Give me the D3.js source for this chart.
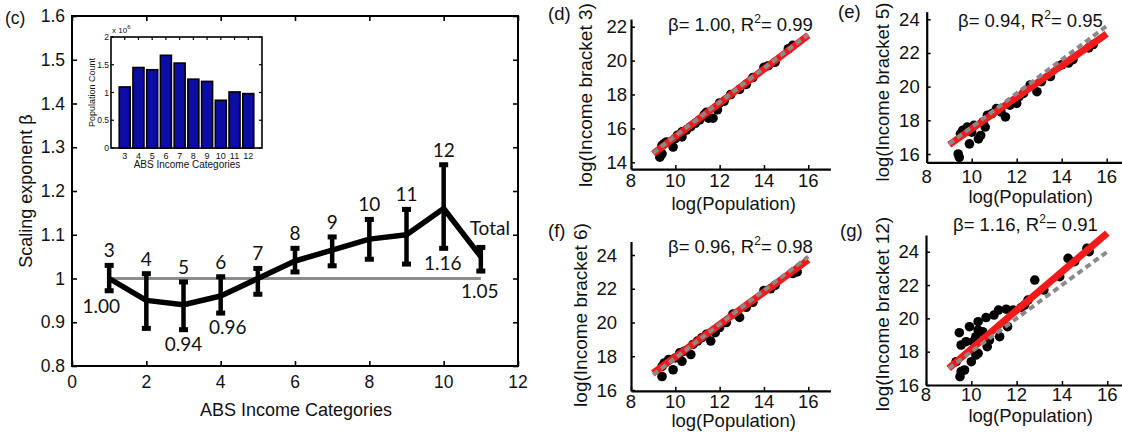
<!DOCTYPE html>
<html>
<head>
<meta charset="utf-8">
<script src="https://cdn.jsdelivr.net/npm/d3@7"></script>
<style>
  body { margin: 0; background: #fff; }
  svg { display: block; }
  text { fill: #111; }
</style>
</head>
<body>
<svg id="fig" width="1122" height="438"></svg>
<script>
// ---- Panel (c): scaling exponent per ABS income category ----
const catIndex   = [1, 2, 3, 4, 5, 6, 7, 8, 9, 10, 11];
const catLabels  = ["3", "4", "5", "6", "7", "8", "9", "10", "11", "12", "Total"];
const betaValues = [1.00, 0.95, 0.94, 0.96, 1.00, 1.04, 1.065, 1.09, 1.10, 1.16, 1.05];
const betaLow    = [0.972, 0.886, 0.883, 0.921, 0.964, 1.015, 1.029, 1.044, 1.033, 1.069, 1.017];
const betaHigh   = [1.030, 1.011, 0.992, 1.004, 1.023, 1.069, 1.095, 1.135, 1.158, 1.260, 1.071];
const labelledIdx = [0, 2, 3, 9, 10];           // points whose exponent is printed
const mainXTicks = [0, 2, 4, 6, 8, 10, 12];
const mainYTicks = [0.8, 0.9, 1.0, 1.1, 1.2, 1.3, 1.4, 1.5, 1.6];

// ---- Inset: population count per category (x 10^6) ----
const insetCategories = [3, 4, 5, 6, 7, 8, 9, 10, 11, 12];
const insetCounts     = [1.10, 1.45, 1.41, 1.67, 1.53, 1.24, 1.20, 0.86, 1.01, 0.98];
const insetYTicks     = [0, 0.5, 1, 1.5, 2];

// ---- Panels (d)-(g): log income vs log population ----
const scatterD = [[9.3,14.3],[9.4,14.5],[9.4,15.0],[9.5,15.1],[9.6,15.2],[9.9,14.9],[10.0,15.4],[10.1,15.6],
  [10.3,15.5],[10.3,15.8],[10.5,15.9],[10.7,16.1],[10.9,16.3],[11.1,16.5],[11.3,16.8],[11.4,16.95],[11.5,16.6],
  [11.7,16.6],[11.9,17.1],[12.0,17.5],[12.2,17.6],[12.5,18.0],[12.9,18.3],[13.2,18.6],[13.5,19.0],[14.0,19.6],
  [14.2,19.7],[14.5,19.9],[15.1,20.7],[15.3,20.9]];
const scatterE = [[9.4,16.0],[9.45,15.8],[9.5,17.2],[9.6,17.4],[9.8,17.6],[9.9,16.6],[10.0,17.3],[10.1,17.7],
  [10.3,16.9],[10.4,17.1],[10.5,17.9],[10.6,17.6],[10.7,18.3],[10.9,18.4],[11.1,18.7],[11.3,18.5],[11.5,18.2],
  [11.7,18.9],[12.0,19.0],[12.1,19.4],[12.3,19.6],[12.6,20.1],[12.9,19.7],[13.1,20.3],[13.5,20.6],[14.0,21.3],
  [14.3,21.4],[14.5,21.6],[15.2,22.3],[15.4,22.5]];
const scatterF = [[9.4,16.8],[9.4,17.4],[9.5,17.6],[9.7,17.8],[9.9,17.2],[10.0,17.9],[10.2,18.2],[10.3,17.7],
  [10.4,18.3],[10.7,18.1],[10.8,18.7],[11.0,18.9],[11.2,19.1],[11.4,19.3],[11.6,18.9],[11.8,19.4],[12.0,19.7],
  [12.3,20.0],[12.6,20.5],[12.9,20.3],[13.2,20.9],[13.5,21.2],[14.0,21.9],[14.3,22.0],[14.5,22.2],[15.3,22.9],
  [15.5,23.0]];
const scatterG = [[9.33,17.4],[9.47,19.14],[9.5,16.5],[9.55,18.4],[9.55,16.8],[9.7,16.9],[9.77,18.6],[9.92,19.5],
  [10.0,17.4],[10.07,18.6],[10.2,17.8],[10.2,18.9],[10.3,19.3],[10.3,19.8],[10.3,17.9],[10.5,19.2],[10.65,20.05],
  [10.7,18.3],[10.8,18.7],[11.0,20.2],[11.2,20.5],[11.25,18.9],[11.54,20.55],[11.6,19.5],[11.84,20.5],[12.2,20.65],
  [12.35,20.8],[12.5,21.1],[12.8,22.3],[13.2,21.7],[13.9,22.5],[14.27,23.6],[14.56,23.4],[15.1,24.2],[15.2,24.0]];

const fitBeta      = [1.00, 0.94, 0.96, 1.16];
const fitR2        = [0.99, 0.95, 0.98, 0.91];
const fitStart     = [14.5, 16.55, 17.0, 17.0];   // fitted log income at log(population) = 9
const refStart     = [14.55, 16.6, 16.9, 17.0];   // slope-one reference at log(population) = 9
const fitRange     = [9, 16];
const bracketNames = ["3", "5", "6", "12"];
const panelTags    = ["(d)", "(e)", "(f)", "(g)"];

const svg = d3.select("#fig");
const SANS = "'Liberation Sans', Arial, Helvetica, sans-serif";
const ANNO = "Lato, 'Open Sans', sans-serif";

// ================= Panel (c) =================
(function mainPanel() {
  const x = d3.scaleLinear().domain([0, 12]).range([72, 518]);
  const y = d3.scaleLinear().domain([0.8, 1.6]).range([366, 16]);
  const g = svg.append("g");
  const fmt = d3.format("~g");

  // inward ticks on all four sides
  const axes = [
    [d3.axisBottom(x).tickValues(mainXTicks).tickFormat(""), `translate(0,${y(0.8)})`],
    [d3.axisTop(x).tickValues(mainXTicks).tickFormat(""), `translate(0,${y(1.6)})`],
    [d3.axisLeft(y).tickValues(mainYTicks).tickFormat(""), `translate(${x(0)},0)`],
    [d3.axisRight(y).tickValues(mainYTicks).tickFormat(""), `translate(${x(12)},0)`]
  ];
  axes.forEach(([ax, tr]) => {
    const a = g.append("g").attr("transform", tr).call(ax.tickSizeInner(-5).tickSizeOuter(0));
    a.select(".domain").remove();
    a.selectAll("line").attr("stroke", "#000").attr("stroke-width", 1.6);
  });
  g.append("rect").attr("x", x(0)).attr("y", y(1.6))
    .attr("width", x(12) - x(0)).attr("height", y(0.8) - y(1.6))
    .attr("fill", "none").attr("stroke", "#000").attr("stroke-width", 2);

  g.selectAll(".xt").data(mainXTicks).join("text")
    .attr("x", d => x(d)).attr("y", 388).attr("text-anchor", "middle")
    .attr("font-family", SANS).attr("font-size", 17.5).text(d => d);
  g.selectAll(".yt").data(mainYTicks).join("text")
    .attr("x", 65).attr("y", d => y(d) + 6).attr("text-anchor", "end")
    .attr("font-family", SANS).attr("font-size", 17.5).text(d => fmt(d));
  g.append("text").attr("x", 296).attr("y", 416).attr("text-anchor", "middle")
    .attr("font-family", SANS).attr("font-size", 18).text("ABS Income Categories");
  g.append("text").attr("transform", `translate(32,${(y(0.8) + y(1.6)) / 2}) rotate(-90)`)
    .attr("text-anchor", "middle").attr("font-family", SANS).attr("font-size", 18)
    .text("Scaling exponent β");
  g.append("text").attr("x", 5).attr("y", 24).attr("font-family", SANS)
    .attr("font-size", 17.5).text("(c)");

  // reference line beta = 1
  g.append("line").attr("x1", x(catIndex[0])).attr("x2", x(catIndex[catIndex.length - 1]))
    .attr("y1", y(1)).attr("y2", y(1)).attr("stroke", "#8c8c8c").attr("stroke-width", 3);

  // error bars
  const eb = g.append("g");
  catIndex.forEach((c, i) => {
    eb.append("line").attr("x1", x(c)).attr("x2", x(c))
      .attr("y1", y(betaLow[i])).attr("y2", y(betaHigh[i]))
      .attr("stroke", "#000").attr("stroke-width", 4.5);
    [betaLow[i], betaHigh[i]].forEach(v => {
      eb.append("rect").attr("x", x(c) - 4.5).attr("y", y(v) - 2.5)
        .attr("width", 9).attr("height", 5).attr("fill", "#000");
    });
  });

  // connecting line
  g.append("path").datum(catIndex.map((c, i) => [c, betaValues[i]]))
    .attr("d", d3.line().x(d => x(d[0])).y(d => y(d[1])))
    .attr("fill", "none").attr("stroke", "#000").attr("stroke-width", 5.5)
    .attr("stroke-linejoin", "round");

  // category names above each bar
  catIndex.forEach((c, i) => {
    const isTotal = catLabels[i] === "Total";
    g.append("text").attr("x", x(c) + (isTotal ? 9 : 0)).attr("y", y(betaHigh[i]) - (isTotal ? 12 : 8))
      .attr("text-anchor", "middle").attr("font-family", ANNO).attr("font-size", 19)
      .text(catLabels[i]);
  });
  // printed exponents below selected bars
  const nudge = { 0: [-8, 22], 2: [0, 21], 3: [7, 21], 9: [-1, 22], 10: [-1, 27] };
  labelledIdx.forEach(i => {
    const [dx, dy] = nudge[i];
    g.append("text").attr("x", x(catIndex[i]) + dx).attr("y", y(betaLow[i]) + dy)
      .attr("text-anchor", "middle").attr("font-family", ANNO).attr("font-size", 19)
      .text(betaValues[i].toFixed(2));
  });
})();

// ================= Inset bar chart =================
(function inset() {
  const x = d3.scaleLinear().domain([2, 13]).range([111, 262]);
  const y = d3.scaleLinear().domain([0, 2]).range([148, 37]);
  const g = svg.append("g");
  const bw = (x(3) - x(2)) * 0.8;
  g.append("rect").attr("x", x(2)).attr("y", y(2)).attr("width", x(13) - x(2))
    .attr("height", y(0) - y(2)).attr("fill", "#fff");
  g.selectAll(".bar").data(insetCategories).join("rect")
    .attr("x", d => x(d) - bw / 2).attr("width", bw)
    .attr("y", (d, i) => y(insetCounts[i])).attr("height", (d, i) => y(0) - y(insetCounts[i]))
    .attr("fill", "#0c0ca6").attr("stroke", "#000").attr("stroke-width", 1.6);
  const tk = g.append("g");
  insetYTicks.forEach(v => {
    tk.append("line").attr("x1", x(2)).attr("x2", x(2) + 3).attr("y1", y(v)).attr("y2", y(v));
    tk.append("line").attr("x1", x(13)).attr("x2", x(13) - 3).attr("y1", y(v)).attr("y2", y(v));
  });
  insetCategories.forEach(c => {
    tk.append("line").attr("x1", x(c)).attr("x2", x(c)).attr("y1", y(2)).attr("y2", y(2) + 3);
  });
  tk.selectAll("line").attr("stroke", "#000").attr("stroke-width", 1.2);
  g.append("rect").attr("x", x(2)).attr("y", y(2)).attr("width", x(13) - x(2))
    .attr("height", y(0) - y(2)).attr("fill", "none").attr("stroke", "#000").attr("stroke-width", 1.6);
  g.selectAll(".yl").data(insetYTicks).join("text")
    .attr("x", 109).attr("y", d => y(d) + 3).attr("text-anchor", "end")
    .attr("font-family", SANS).attr("font-size", 8.5).attr("fill", "#222").text(d => d);
  g.selectAll(".xl").data(insetCategories).join("text")
    .attr("x", d => x(d)).attr("y", 159).attr("text-anchor", "middle")
    .attr("font-family", SANS).attr("font-size", 9).attr("fill", "#222").text(d => d);
  g.append("text").attr("x", 187).attr("y", 168).attr("text-anchor", "middle")
    .attr("font-family", SANS).attr("font-size", 10).attr("fill", "#222").text("ABS Income Categories");
  g.append("text").attr("transform", `translate(95,${(y(0) + y(2)) / 2}) rotate(-90)`)
    .attr("text-anchor", "middle").attr("font-family", SANS).attr("font-size", 9)
    .attr("fill", "#222").text("Population Count");
  const m = g.append("text").attr("x", 112).attr("y", 33).attr("font-family", SANS)
    .attr("font-size", 8).attr("fill", "#222");
  m.append("tspan").text("x 10");
  m.append("tspan").attr("dy", -4).attr("font-size", 6).text("6");
})();

// ================= Panels (d)-(g) =================
const layouts = [
  { x0: 631, xUnit: 22.16, xMax: 17,   yAt: [14, 162.3], yUnit: 16.95, yDom: [13.6, 22.45],
    tag: [548, 20], titleX: 592, titleY: 95, titleSize: 19, labGap: 4, ann: [668, 31], xl: 187, xt: 210 },
  { x0: 926.7, xUnit: 22.5, xMax: 16.8, yAt: [16, 154], yUnit: 16.84, yDom: [15.5, 24.45],
    tag: [838, 18], titleX: 889, titleY: 92, titleSize: 18.5, labGap: 7, ann: [958, 27], xl: 183, xt: 203 },
  { x0: 631, xUnit: 22.16, xMax: 17,   yAt: [16, 390], yUnit: 16.875, yDom: [15.95, 24.8],
    tag: [548, 237], titleX: 587, titleY: 315, titleSize: 19, labGap: 14, ann: [668, 253], xl: 408, xt: 427 },
  { x0: 926, xUnit: 22.66, xMax: 16.8, yAt: [16, 385], yUnit: 16.66, yDom: [16, 25],
    tag: [840, 237], titleX: 889, titleY: 314, titleSize: 19, labGap: 7, ann: [953, 231], xl: 401, xt: 422 }
];
const scatters = [scatterD, scatterE, scatterF, scatterG];

layouts.forEach((L, p) => {
  const x = d3.scaleLinear().domain([8, L.xMax]).range([L.x0, L.x0 + (L.xMax - 8) * L.xUnit]);
  const yPix = v => L.yAt[1] - (v - L.yAt[0]) * L.yUnit;
  const y = d3.scaleLinear().domain(L.yDom).range([yPix(L.yDom[0]), yPix(L.yDom[1])]);
  const g = svg.append("g");
  const xTicks = [8, 10, 12, 14, 16];
  const yTicks = d3.range(Math.ceil(L.yDom[0] / 2) * 2, L.yDom[1], 2);

  // points
  g.selectAll("circle").data(scatters[p]).join("circle")
    .attr("cx", d => x(d[0])).attr("cy", d => y(d[1])).attr("r", 4.8).attr("fill", "#000");

  // fitted power law (slope = beta)
  const fit = fitRange.map(u => [u, fitStart[p] + fitBeta[p] * (u - fitRange[0])]);
  g.append("path").datum(fit).attr("d", d3.line().x(d => x(d[0])).y(d => y(d[1])))
    .attr("stroke", "#f21a1a").attr("stroke-width", 7).attr("fill", "none");
  // linear (beta = 1) reference
  const ref = fitRange.map(u => [u, refStart[p] + (u - fitRange[0])]);
  g.append("path").datum(ref).attr("d", d3.line().x(d => x(d[0])).y(d => y(d[1])))
    .attr("stroke", "#8a8a8a").attr("stroke-width", 4).attr("stroke-dasharray", "6,4")
    .attr("fill", "none");

  // axes: left and bottom only, ticks inward
  const ax = g.append("g").attr("transform", `translate(0,${y(L.yDom[0])})`)
    .call(d3.axisBottom(x).tickValues(xTicks).tickSizeInner(-4).tickSizeOuter(0).tickFormat(""));
  const ay = g.append("g").attr("transform", `translate(${x(8)},0)`)
    .call(d3.axisLeft(y).tickValues(yTicks).tickSizeInner(-4).tickSizeOuter(0).tickFormat(""));
  [ax, ay].forEach(a => {
    a.select(".domain").attr("stroke", "#000").attr("stroke-width", 2.2);
    a.selectAll(".tick line").attr("stroke", "#000").attr("stroke-width", 1.5);
  });

  g.selectAll(".xtl").data(xTicks).join("text")
    .attr("x", d => x(d)).attr("y", L.xl).attr("text-anchor", "middle")
    .attr("font-family", SANS).attr("font-size", 18.5).text(d => d);
  g.selectAll(".ytl").data(yTicks).join("text")
    .attr("x", x(8) - L.labGap).attr("y", d => y(d) + 6.5).attr("text-anchor", "end")
    .attr("font-family", SANS).attr("font-size", 18.5).text(d => d);

  g.append("text").attr("x", x(8) + (x(16) - x(8)) / 2 + 14).attr("y", L.xt).attr("text-anchor", "middle")
    .attr("font-family", SANS).attr("font-size", 18.5).text("log(Population)");
  g.append("text")
    .attr("transform", `translate(${L.titleX},${L.titleY}) rotate(-90)`)
    .attr("text-anchor", "middle").attr("font-family", SANS).attr("font-size", L.titleSize)
    .text(`log(Income bracket ${bracketNames[p]})`);
  g.append("text").attr("x", L.tag[0]).attr("y", L.tag[1]).attr("font-family", SANS)
    .attr("font-size", 18.5).text(panelTags[p]);

  const a = g.append("text").attr("x", L.ann[0]).attr("y", L.ann[1])
    .attr("font-family", SANS).attr("font-size", 18.5);
  a.append("tspan").text(`β= ${fitBeta[p].toFixed(2)}, R`);
  a.append("tspan").attr("dy", -8).attr("font-size", 12).text("2");
  a.append("tspan").attr("dy", 8).text(`= ${fitR2[p].toFixed(2)}`);
});
</script>
</body>
</html>
